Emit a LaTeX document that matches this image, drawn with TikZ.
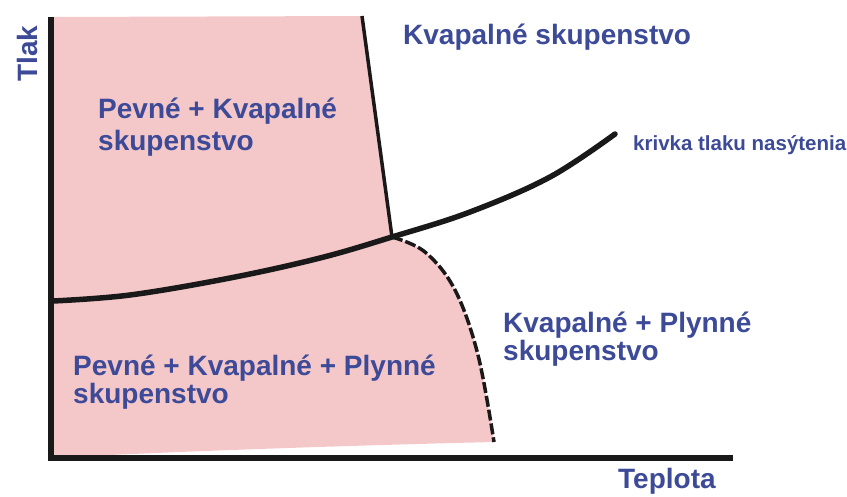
\documentclass[tikz,border=0pt]{standalone}
\usepackage{fontspec}
\setmainfont{Liberation Sans}
\usetikzlibrary{positioning}
\definecolor{labelblue}{RGB}{60,74,152}
\definecolor{phasepink}{RGB}{244,199,201}

\begin{document}
\begin{tikzpicture}[x=1pt, y=-1pt,
      lbl/.style={anchor=base west, inner sep=0pt, align=left, text=labelblue,
                  font=\bfseries\fontsize{28}{28}\selectfont},
      small/.style={anchor=base west, inner sep=0pt, text=labelblue,
                    font=\bfseries\fontsize{20.5}{24}\selectfont},
      axis/.style={line width=5.5pt, black!90, line join=miter},
      curve/.style={line width=5.5pt, line cap=round, black!90},
      border/.style={line width=3.5pt, black!90},
      ]
    \useasboundingbox (0,0) rectangle (847,496);
    % key points of the diagram
    \coordinate (origin) at (51,458);
    \coordinate (ytop) at (51,17);
    \coordinate (xend) at (733,458);
    \coordinate (mtop) at (362,16);
    \coordinate (triple) at (392,237);
    \coordinate (dend) at (494,442);
    \coordinate (satend) at (615,134);

    % pink area
    \fill[phasepink] (ytop) -- (mtop) -- (triple)
      -- plot[smooth, tension=0.6] coordinates {(392,237) (425,252) (455,290) (478,355) (494,442)}
      .. controls (330,446) and (160,452) .. (origin) -- cycle;

    % phase boundaries
    \draw[border] (mtop) -- (triple);
    \draw[border, dash pattern=on 11pt off 3pt]
      plot[smooth, tension=0.6] coordinates {(392,237) (425,252) (455,290) (478,355) (494,442)};
    \draw[curve] plot[smooth, tension=0.6] coordinates {(53,301) (130,295) (230,278) (320,258) (392,237) (470,212) (550,177) (615,134)};

    % axes
    \draw[axis] (ytop) -- (origin) -- (xend);

    % labels
    \node[lbl] (liquid) at (403,44) {Kvapalné skupenstvo};
    \node[lbl] (solliq) at (98,150) {Pevné + Kvapalné\\[4pt]skupenstvo};
    \node[lbl] (liqgas) at (503,360) {Kvapalné + Plynné\\skupenstvo};
    \node[lbl] (allthree) at (73,403) {Pevné + Kvapalné + Plynné\\skupenstvo};
    \node[small] (satlabel) at (633,150) {krivka tlaku nasýtenia};
    \node[lbl] (xlabel) at (618,488) {Teplota};
    \node[lbl, rotate=90] (ylabel) at (37,82) {Tlak};
\end{tikzpicture}
\end{document}
